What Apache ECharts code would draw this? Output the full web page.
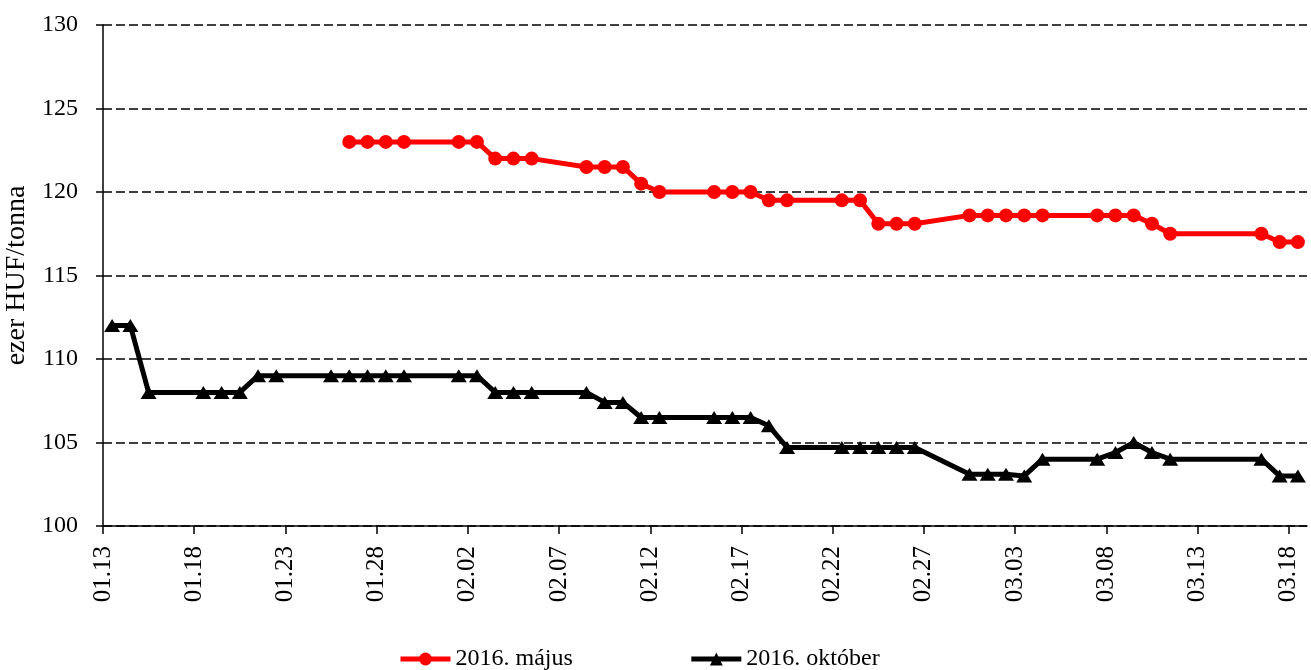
<!DOCTYPE html>
<html><head><meta charset="utf-8">
<script src="https://cdn.jsdelivr.net/npm/echarts@6/dist/echarts.min.js"></script>
<style>html,body{margin:0;padding:0;background:#fff}#c{width:1311px;height:670px}</style>
</head><body><div id="c"></div>
<script>
const xTickLabels = ['01.13','01.18','01.23','01.28','02.02','02.07','02.12','02.17','02.22','02.27','03.03','03.08','03.13','03.18'];
const yMin = 100, yMax = 130, yStep = 5;
const yAxisName = 'ezer HUF/tonna';
const seriesNames = ['2016. május', '2016. október'];

const majusDates = ['2016-01-26','2016-01-27','2016-01-28','2016-01-29','2016-02-01','2016-02-02','2016-02-03','2016-02-04','2016-02-05','2016-02-08','2016-02-09','2016-02-10','2016-02-11','2016-02-12','2016-02-15','2016-02-16','2016-02-17','2016-02-18','2016-02-19','2016-02-22','2016-02-23','2016-02-24','2016-02-25','2016-02-26','2016-02-29','2016-03-01','2016-03-02','2016-03-03','2016-03-04','2016-03-07','2016-03-08','2016-03-09','2016-03-10','2016-03-11','2016-03-16','2016-03-17','2016-03-18'];
const majusValues = [123,123,123,123,123,123,122,122,122,121.5,121.5,121.5,120.5,120,120,120,120,119.5,119.5,119.5,119.5,118.1,118.1,118.1,118.6,118.6,118.6,118.6,118.6,118.6,118.6,118.6,118.1,117.5,117.5,117,117];

const oktoberDates = ['2016-01-13','2016-01-14','2016-01-15','2016-01-18','2016-01-19','2016-01-20','2016-01-21','2016-01-22','2016-01-25','2016-01-26','2016-01-27','2016-01-28','2016-01-29','2016-02-01','2016-02-02','2016-02-03','2016-02-04','2016-02-05','2016-02-08','2016-02-09','2016-02-10','2016-02-11','2016-02-12','2016-02-15','2016-02-16','2016-02-17','2016-02-18','2016-02-19','2016-02-22','2016-02-23','2016-02-24','2016-02-25','2016-02-26','2016-02-29','2016-03-01','2016-03-02','2016-03-03','2016-03-04','2016-03-07','2016-03-08','2016-03-09','2016-03-10','2016-03-11','2016-03-16','2016-03-17','2016-03-18'];
const oktoberValues = [112,112,108,108,108,108,109,109,109,109,109,109,109,109,109,108,108,108,108,107.4,107.4,106.5,106.5,106.5,106.5,106.5,106,104.7,104.7,104.7,104.7,104.7,104.7,103.1,103.1,103.1,103,104,104,104.4,105,104.4,104,104,103,103];

const START = Date.UTC(2016, 0, 13);
function dayIndex(s) { const p = s.split('-').map(Number); return Math.round((Date.UTC(p[0], p[1] - 1, p[2]) - START) / 86400000); }
// Each date occupies one day slot; the point sits in the middle of its slot
const toPts = (dates, vals) => dates.map((d, i) => [dayIndex(d) + 0.5, vals[i]]);
const tickPos = xTickLabels.map(l => dayIndex('2016-' + l.replace('.', '-')));
const xMax = tickPos[tickPos.length - 1] + 1;

const FONT = 'Liberation Serif';
const chart = echarts.init(document.getElementById('c'), null, {renderer: 'canvas'});
chart.setOption({
  animation: false,
  backgroundColor: '#ffffff',
  grid: {left: 103, right: 4, top: 25, bottom: 144, containLabel: false, outerBoundsMode: 'none'},
  legend: {
    left: 398, top: 647, padding: 0, itemWidth: 50, itemHeight: 16, itemGap: 116,
    textStyle: {fontFamily: FONT, fontSize: 24, color: '#000'},
    lineStyle: {width: 5},
    data: seriesNames
  },
  xAxis: {
    type: 'value', min: 0, max: xMax,
    axisLine: {show: true, lineStyle: {color: '#000', width: 1.5}},
    axisTick: {show: true, inside: false, length: 8, lineStyle: {color: '#000', width: 1.5}, customValues: tickPos},
    axisLabel: {
      rotate: 90, margin: 20, color: '#000', fontFamily: FONT, fontSize: 25,
      customValues: tickPos,
      formatter: v => { const i = tickPos.indexOf(v); return i >= 0 ? xTickLabels[i] : ''; }
    },
    splitLine: {show: false}
  },
  yAxis: {
    type: 'value', min: yMin, max: yMax, interval: yStep,
    name: yAxisName, nameLocation: 'middle', nameGap: 72, nameRotate: 90,
    nameTextStyle: {fontFamily: FONT, fontSize: 28, color: '#000'},
    axisLine: {show: true, lineStyle: {color: '#000', width: 1.5}},
    axisTick: {show: true, inside: false, length: 7, lineStyle: {color: '#000', width: 1.5}},
    axisLabel: {margin: 25, color: '#000', fontFamily: FONT, fontSize: 24},
    splitLine: {show: true, lineStyle: {color: '#000', width: 1.5, type: [9, 4]}}
  },
  series: [
    {
      name: seriesNames[0], type: 'line', data: toPts(majusDates, majusValues),
      symbol: 'circle', symbolSize: 14,
      lineStyle: {color: '#ff0000', width: 5},
      itemStyle: {color: '#ff0000'}
    },
    {
      name: seriesNames[1], type: 'line', data: toPts(oktoberDates, oktoberValues),
      symbol: 'triangle', symbolSize: [16, 13],
      lineStyle: {color: '#000000', width: 5},
      itemStyle: {color: '#000000'}
    }
  ]
});
</script>
</body></html>
